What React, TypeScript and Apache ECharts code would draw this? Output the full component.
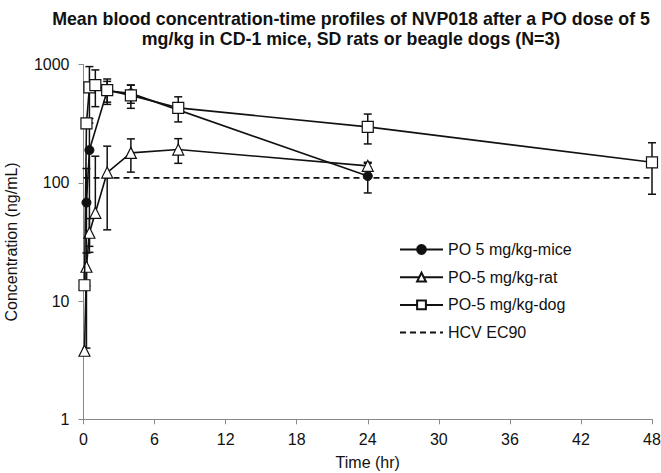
import React, { useEffect, useRef } from "react";
import * as echarts from "echarts";

const miceTime = [0.25, 0.5, 2, 4, 24];
const miceConc = [68, 189, 600, 570, 114];
const miceSD = [64, 160, 120, 100, 32];

const ratTime = [0.083, 0.25, 0.5, 1, 2, 4, 8, 24];
const ratConc = [3.8, 19.5, 37.8, 55.7, 122, 179, 191, 139];
const ratSD = [0, 6, 12, 112, 82, 56, 45, 10];

const dogTime = [0.083, 0.25, 0.5, 1, 2, 4, 8, 24, 48];
const dogConc = [13.6, 318, 640, 670, 607, 548, 430, 297, 149];
const dogSD = [0, 0, 320, 230, 147, 122, 103, 84, 69];

const ec90Time = [0, 48];
const ec90Conc = [110, 110];

const xTicks = [0, 6, 12, 18, 24, 30, 36, 42, 48];
const yTicks = [1, 10, 100, 1000];

const seriesNames = ["PO 5 mg/kg-mice", "PO-5 mg/kg-rat", "PO-5 mg/kg-dog", "HCV EC90"];

const FONT = "Liberation Sans, Arial, sans-serif";

function pairs(t: number[], v: number[]) {
  return t.map((x, i) => [x, v[i]]);
}

function errData(t: number[], v: number[], sd: number[]) {
  return t
    .map((x, i) => [x, v[i] - sd[i], v[i] + sd[i], v[i]])
    .filter((d, i) => sd[i] > 0);
}

function errorSeries(data: number[][], z: number) {
  return {
    type: "custom",
    z,
    silent: true,
    data,
    encode: { x: 0, y: 3 },
    renderItem: (params: any, api: any) => {
      const x = api.value(0);
      const lo = api.value(1);
      const hi = api.value(2);
      const mid = api.value(3);
      const pHi = api.coord([x, hi]);
      const pMid = api.coord([x, mid]);
      const cap = 4;
      const children: any[] = [];
      const st = { stroke: "#111", lineWidth: 1.5 };
      let pLo = pMid;
      if (lo > 0) {
        pLo = api.coord([x, lo]);
        children.push({
          type: "line",
          shape: { x1: pLo[0] - cap, y1: pLo[1], x2: pLo[0] + cap, y2: pLo[1] },
          style: st,
        });
      }
      children.push({
        type: "line",
        shape: { x1: pHi[0], y1: pHi[1], x2: pLo[0], y2: pLo[1] },
        style: st,
      });
      children.push({
        type: "line",
        shape: { x1: pHi[0] - cap, y1: pHi[1], x2: pHi[0] + cap, y2: pHi[1] },
        style: st,
      });
      return { type: "group", children };
    },
  };
}

export default function App() {
  const ref = useRef<HTMLDivElement>(null);
  useEffect(() => {
    if (!ref.current) return;
    const chart = echarts.init(ref.current, null, { renderer: "svg" });
    const lineStyle = { color: "#111", width: 1.6 };
    chart.setOption({
      animation: false,
      backgroundColor: "#fff",
      textStyle: { fontFamily: FONT },
      title: {
        text: "Mean blood concentration-time profiles of NVP018 after a PO dose of 5\nmg/kg in CD-1 mice, SD rats or beagle dogs (N=3)",
        left: 346,
        top: 4,
        textAlign: "center",
        textStyle: {
          fontFamily: FONT,
          fontSize: 17.8,
          fontWeight: "bold",
          color: "#111",
          lineHeight: 20,
        },
      },
      legend: {
        orient: "vertical",
        left: 394,
        top: 235,
        itemWidth: 43,
        itemHeight: 11,
        itemGap: 8.7,
        data: [
          { name: seriesNames[0] },
          { name: seriesNames[1] },
          { name: seriesNames[2] },
          { name: seriesNames[3], itemStyle: { opacity: 0 } },
        ],
        textStyle: { fontFamily: FONT, fontSize: 16, color: "#111", lineHeight: 19 },
      },
      grid: {
        left: 83.5,
        right: 9,
        top: 64.5,
        bottom: 53.7,
        containLabel: false,
        outerBoundsMode: "none",
      },
      xAxis: {
        type: "value",
        min: xTicks[0],
        max: xTicks[xTicks.length - 1],
        interval: 6,
        name: "Time (hr)",
        nameLocation: "middle",
        nameGap: 35,
        nameTextStyle: { fontFamily: FONT, fontSize: 16, color: "#111" },
        axisLine: { lineStyle: { color: "#888", width: 1 } },
        axisTick: { show: true, length: 5, lineStyle: { color: "#888" } },
        axisLabel: { fontFamily: FONT, fontSize: 16, color: "#111", margin: 12 },
        splitLine: { show: false },
      },
      yAxis: {
        type: "log",
        logBase: 10,
        min: yTicks[0],
        max: yTicks[yTicks.length - 1],
        name: "Concentration (ng/mL)",
        nameLocation: "middle",
        nameGap: 64,
        nameTextStyle: { fontFamily: FONT, fontSize: 16, color: "#111" },
        axisLine: { show: true, lineStyle: { color: "#888", width: 1 } },
        axisTick: { show: true, length: 5, lineStyle: { color: "#888" } },
        axisLabel: {
          fontFamily: FONT,
          fontSize: 16,
          color: "#111",
          margin: 14,
          formatter: (v: number) => String(Math.round(v)),
        },
        splitLine: { show: false },
        minorTick: { show: false },
      },
      series: [
        errorSeries(errData(miceTime, miceConc, miceSD), 1),
        errorSeries(errData(ratTime, ratConc, ratSD), 1),
        errorSeries(errData(dogTime, dogConc, dogSD), 1),
        {
          name: seriesNames[3],
          type: "line",
          z: 2,
          data: pairs(ec90Time, ec90Conc),
          symbol: "none",
          lineStyle: { color: "#111", width: 1.6, type: [6, 4] },
          itemStyle: { color: "#111" },
        },
        {
          name: seriesNames[0],
          type: "line",
          z: 3,
          data: pairs(miceTime, miceConc),
          symbol: "circle",
          symbolSize: 9,
          lineStyle,
          itemStyle: { color: "#111", borderColor: "#111", borderWidth: 1 },
        },
        {
          name: seriesNames[1],
          type: "line",
          z: 4,
          data: pairs(ratTime, ratConc),
          symbol: "triangle",
          symbolSize: 11,
          lineStyle,
          itemStyle: { color: "#fff", borderColor: "#111", borderWidth: 1.2 },
        },
        {
          name: seriesNames[2],
          type: "line",
          z: 5,
          data: pairs(dogTime, dogConc),
          symbol: "rect",
          symbolSize: 11,
          lineStyle,
          itemStyle: { color: "#fff", borderColor: "#111", borderWidth: 1.2 },
        },
      ],
    });
    return () => chart.dispose();
  }, []);
  return <div ref={ref} style={{ width: 661, height: 473, position: "absolute", left: 0, top: 0 }} />;
}
